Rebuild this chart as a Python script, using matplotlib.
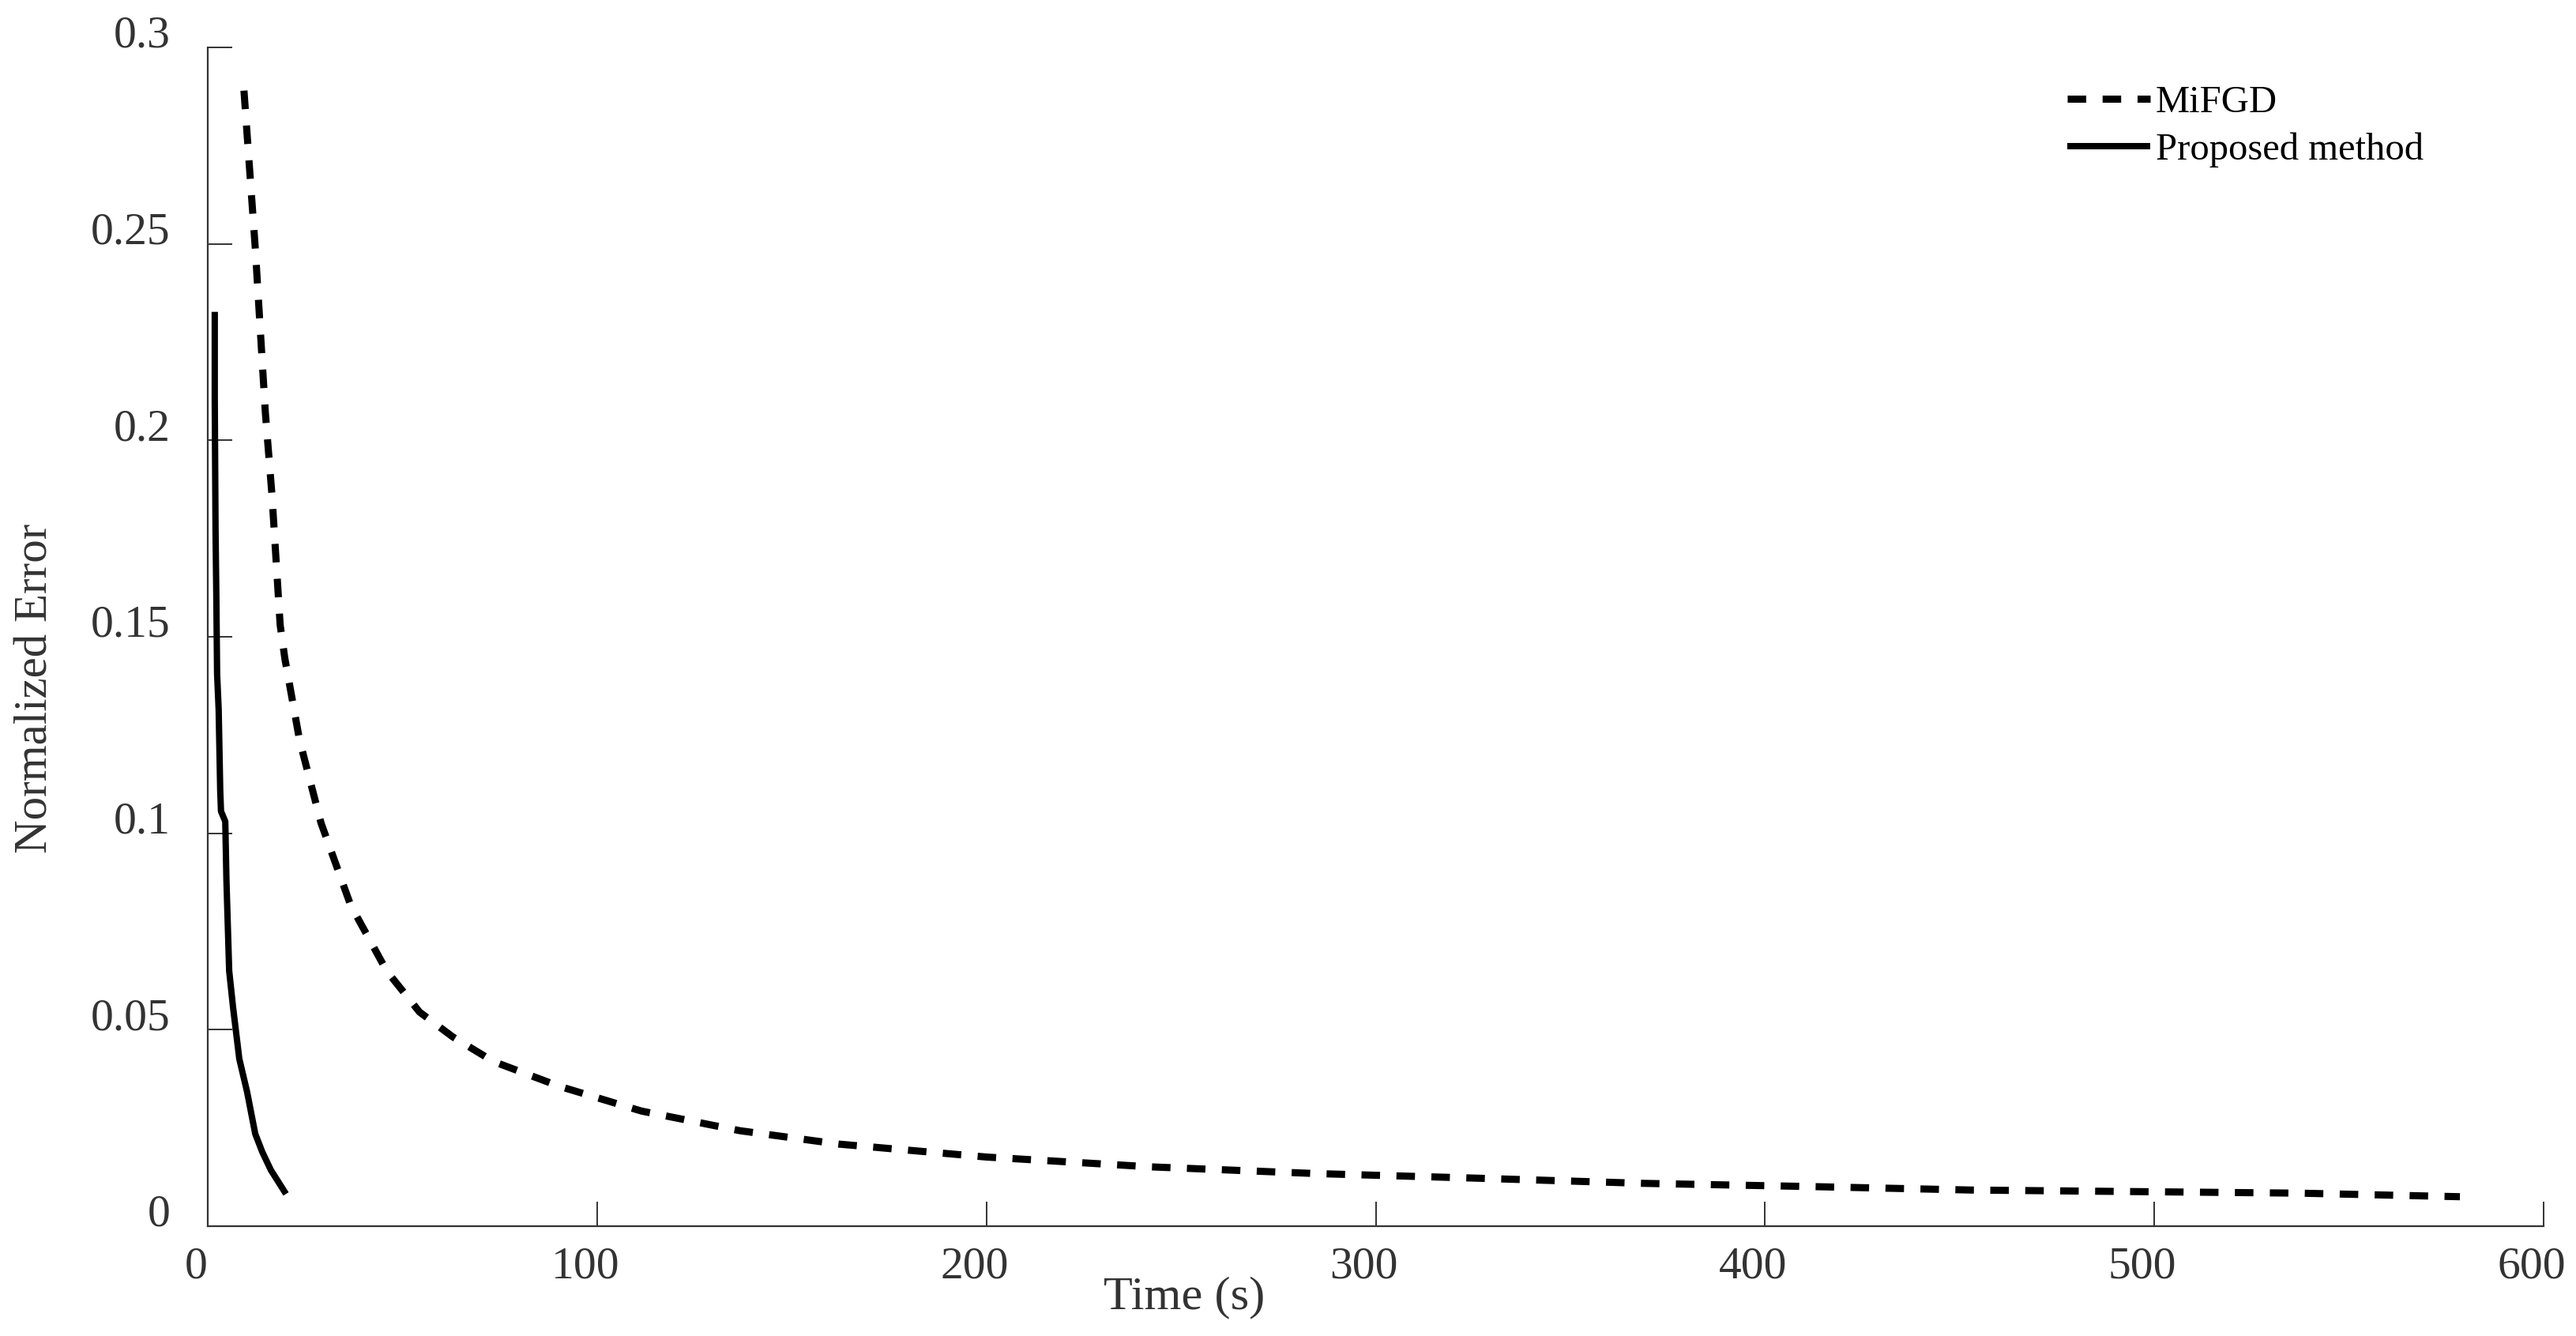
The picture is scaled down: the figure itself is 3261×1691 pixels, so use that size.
import matplotlib
matplotlib.use('Agg')
import matplotlib.pyplot as plt
import matplotlib.transforms as mtransforms

plt.rcParams['font.family'] = ['Liberation Serif', 'DejaVu Serif']

# MiFGD (dashed)
mifgd_t = [9.3, 12.2, 14.8, 16.5, 18.6, 19.8, 23.6, 29.1, 36.7, 46.0, 54.4, 62.9,
           73.4, 90.3, 111.4, 136.7, 162.0, 200.0, 242.2, 284.4, 326.6, 368.8,
           411.0, 453.0, 495.4, 537.6, 578.5]
mifgd_err = [0.289, 0.249, 0.207, 0.186, 0.153, 0.1445, 0.1236, 0.1026, 0.0817,
             0.0649, 0.0545, 0.0482, 0.0419, 0.0356, 0.0293, 0.0243, 0.0209,
             0.0176, 0.0151, 0.0134, 0.0122, 0.0109, 0.0101, 0.0092, 0.0088,
             0.0084, 0.0075]

# Proposed method (solid)
prop_t = [1.8, 1.8, 2.0, 2.2, 2.4, 2.8, 3.2, 3.4, 4.5, 4.8, 5.5, 6.5, 8.1, 10.1,
          12.2, 14.0, 16.2, 20.1]
prop_err = [0.2327, 0.210, 0.177, 0.1605, 0.1406, 0.1315, 0.111, 0.1056, 0.103,
            0.088, 0.065, 0.0557, 0.0426, 0.0342, 0.0235, 0.0189, 0.0143, 0.0082]

x_ticks = [0, 100, 200, 300, 400, 500, 600]
y_ticks = [0, 0.05, 0.1, 0.15, 0.2, 0.25, 0.3]
y_tick_labels = ['0', '0.05', '0.1', '0.15', '0.2', '0.25', '0.3']

W, H = 3261, 1691
fig = plt.figure(figsize=(W / 100, H / 100), dpi=100)
ax = fig.add_axes([263 / W, 1 - 1552 / H, (3220 - 263) / W, (1552 - 60) / H])

ax.plot(mifgd_t, mifgd_err, color='black', lw=6.5, dashes=(2.6, 2.3),
        dash_capstyle='butt', label='MiFGD')
ax.plot(prop_t, prop_err, color='black', lw=5.8, solid_capstyle='butt',
        solid_joinstyle='round', label='Proposed method')

ax.set_xlim(0, 600)
ax.set_ylim(0, 0.3)
ax.set_xticks(x_ticks)
ax.set_xticklabels([str(v) for v in x_ticks])
ax.set_yticks(y_ticks)
ax.set_yticklabels(y_tick_labels)

for s in ['top', 'right']:
    ax.spines[s].set_visible(False)
for s in ['left', 'bottom']:
    ax.spines[s].set_color('#333333')
    ax.spines[s].set_linewidth(1.6)

ax.tick_params(axis='both', direction='in', length=22, width=1.4,
               color='#333333', labelcolor='#333333', labelsize=41.5)
ax.tick_params(axis='y', pad=34)
ax.tick_params(axis='x', pad=18)

for lbl in ax.get_yticklabels():
    lbl.set_verticalalignment('baseline')
offset = mtransforms.ScaledTranslation(-0.15, 0, fig.dpi_scale_trans)
for lbl in ax.get_xticklabels():
    lbl.set_transform(lbl.get_transform() + offset)

fig.text(46 / W, 1 - 871 / H, 'Normalized Error', rotation=90, ha='center',
         va='center', fontsize=42.5, color='#333333')
fig.text(1499 / W, 1 - 1642 / H, 'Time (s)', ha='center', va='center',
         fontsize=43.5, color='#333333')

leg = ax.legend(loc='upper left', bbox_to_anchor=(2617 / W, 1 - 108 / H),
                bbox_transform=fig.transFigure, frameon=False, fontsize=35,
                handlelength=2.15, handletextpad=0.15, borderpad=0,
                borderaxespad=0, labelspacing=0.32)

fig.savefig('out.png', dpi=100)
